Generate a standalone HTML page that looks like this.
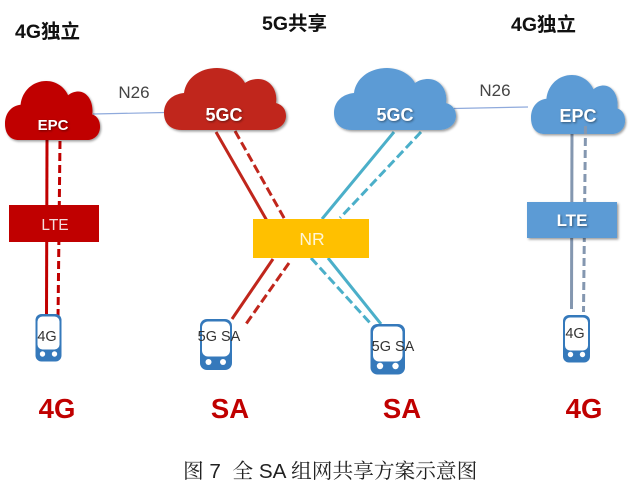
<!DOCTYPE html>
<html lang="zh"><head><meta charset="utf-8"><style>
html,body{margin:0;padding:0;background:#fff}
svg{display:block}
text{font-family:"Liberation Sans","Noto Sans CJK SC",sans-serif}
.h{font-size:19.500px;font-weight:700;fill:#111}
.c{font-size:18px;font-weight:700;fill:#fff;text-anchor:middle;filter:drop-shadow(1px 1px 1px rgba(0,0,0,.45))}
.n{font-size:17px;fill:#444;text-anchor:middle}
.p{font-size:14.500px;fill:#333;text-anchor:middle}
.b{font-size:27.500px;font-weight:700;fill:#c00000;text-anchor:middle}
</style></head><body>
<svg width="629" height="488" viewBox="0 0 629 488" xmlns="http://www.w3.org/2000/svg">
<defs>
<path id="cl" d="M18 62C6 62 0 55 0 45C0 33 9 26 20 25C22 10 36 0 53 0C66 0 77 7 81 15C85 12 90 11 94 11C106 11 114 22 112 35C119 37 122 42 122 48C122 56 115 62 105 62Z"/>
<filter id="s" x="-10%" y="-10%" width="125%" height="130%"><feDropShadow dx="1.5" dy="1.5" stdDeviation="1.3" flood-color="#000" flood-opacity=".4"/></filter>
</defs>
<rect width="629" height="488" fill="#fff"/>

<!-- N26 links -->
<line x1="93" y1="114" x2="165" y2="112.500" stroke="#8faadc" stroke-width="1.200"/>
<line x1="454" y1="108.500" x2="528" y2="107" stroke="#8faadc" stroke-width="1.200"/>

<!-- left column lines -->
<g fill="none" stroke="#c00000" stroke-width="3">
<line x1="47" y1="140" x2="46.500" y2="316"/>
<line x1="60" y1="141" x2="58" y2="319" stroke-dasharray="8 4"/>
</g>
<!-- right column solid -->
<line x1="572" y1="130" x2="571.500" y2="309" stroke="#8497b0" stroke-width="3" fill="none"/>
<!-- red diagonals -->
<g fill="none" stroke="#c0261c" stroke-width="3">
<line x1="216" y1="132" x2="270" y2="226"/>
<line x1="235" y1="131" x2="288" y2="225" stroke-dasharray="9 4"/>
<line x1="273" y1="259" x2="232" y2="319"/>
<line x1="289" y1="263" x2="246" y2="324" stroke-dasharray="9 4"/>
</g>
<!-- teal diagonals -->
<g fill="none" stroke="#4bafc9" stroke-width="3">
<line x1="394" y1="132" x2="322" y2="219"/>
<line x1="421" y1="132" x2="340" y2="218" stroke-dasharray="9 4"/>
<line x1="328" y1="258" x2="381" y2="324"/>
<line x1="311" y1="258" x2="371" y2="324" stroke-dasharray="9 4"/>
</g>

<!-- clouds -->
<use href="#cl" transform="translate(5 81) scale(.779 .952)" fill="#c00000" filter="url(#s)"/>
<use href="#cl" transform="translate(164 68)" fill="#c0261c" filter="url(#s)"/>
<use href="#cl" transform="translate(334 68)" fill="#5b9bd5" filter="url(#s)"/>
<use href="#cl" transform="translate(531 75) scale(.771 .952)" fill="#5b9bd5" filter="url(#s)"/>

<!-- right column dashed (over cloud) -->
<line x1="585.500" y1="126" x2="583.500" y2="312" stroke="#8497b0" stroke-width="3" fill="none" stroke-dasharray="8 4"/>

<text x="53" y="130" class="c" style="font-size:15px">EPC</text>
<text x="224" y="121" class="c">5GC</text>
<text x="395" y="121" class="c">5GC</text>
<text x="578" y="122" class="c">EPC</text>

<!-- boxes -->
<rect x="9" y="205" width="90" height="37" fill="#c00000"/>
<text x="55" y="230" font-size="15.500" fill="#f4dede" text-anchor="middle">LTE</text>
<rect x="253" y="219" width="116" height="39" fill="#ffc000"/>
<text x="312" y="245" font-size="17.500" fill="#fff6d8" text-anchor="middle">NR</text>
<rect x="527" y="202" width="90" height="36" fill="#5b9bd5" filter="url(#s)"/>
<text x="572" y="226" class="c" style="font-size:17px">LTE</text>

<!-- phones -->
<g fill="#3579bb">
<rect x="35.500" y="314" width="26" height="47.500" rx="6"/>
<rect x="200" y="319" width="32" height="51" rx="7"/>
<rect x="370.500" y="324" width="34.500" height="50.500" rx="7"/>
<rect x="563" y="315" width="27" height="47.500" rx="6"/>
</g>
<g fill="#fff">
<rect x="37.500" y="316.500" width="22" height="33" rx="5"/>
<circle cx="42.500" cy="354" r="2.700"/><circle cx="54.500" cy="354" r="2.700"/>
<rect x="202" y="321.500" width="28" height="35" rx="6"/>
<circle cx="208.500" cy="362" r="3"/><circle cx="223" cy="362" r="3"/>
<rect x="373" y="326.500" width="29.500" height="35" rx="6"/>
<circle cx="380" cy="366" r="3.200"/><circle cx="395.500" cy="366" r="3.200"/>
<rect x="565" y="317.500" width="23" height="33" rx="5"/>
<circle cx="570.500" cy="354.500" r="2.700"/><circle cx="582.500" cy="354.500" r="2.700"/>
</g>
<text x="47" y="341" class="p">4G</text>
<text x="219" y="341" class="p">5G SA</text>
<text x="393" y="351" class="p">5G SA</text>
<text x="575" y="338" class="p">4G</text>

<!-- headings -->
<text x="15" y="38" class="h">4G独立</text>
<text x="262" y="30" class="h">5G共享</text>
<text x="511" y="31" class="h">4G独立</text>
<text x="134" y="98" class="n">N26</text>
<text x="495" y="96" class="n">N26</text>

<text x="57" y="418" class="b">4G</text>
<text x="230" y="418" class="b">SA</text>
<text x="402" y="418" class="b">SA</text>
<text x="584" y="418" class="b">4G</text>

<text x="183" y="478" font-size="20.700px" fill="#222" style='font-family:"Liberation Sans","Noto Serif CJK SC",serif'>图 7&#160; 全 SA 组网共享方案示意图</text>
</svg>
</body></html>
